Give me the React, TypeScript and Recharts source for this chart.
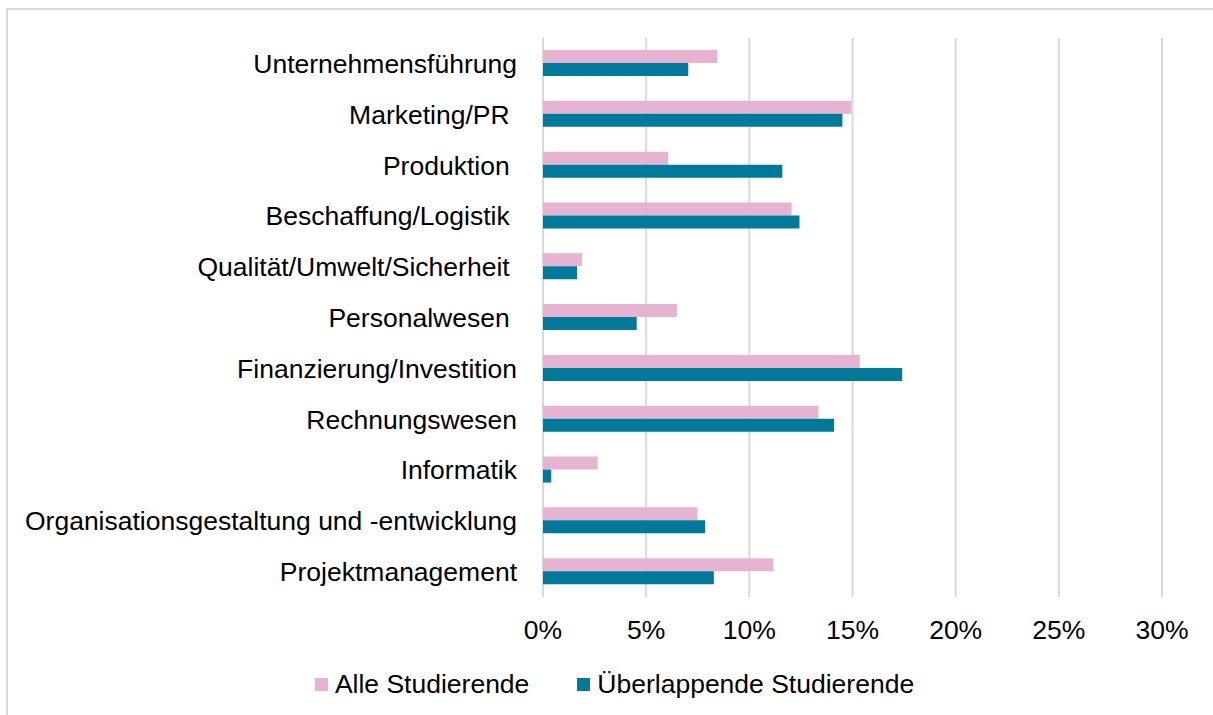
import { Bar, BarChart, CartesianGrid, Legend, XAxis, YAxis } from "recharts";

const categories = [
  "Unternehmensführung",
  "Marketing/PR\u00a0",
  "Produktion\u00a0",
  "Beschaffung/Logistik\u00a0",
  "Qualität/Umwelt/Sicherheit\u00a0",
  "Personalwesen\u00a0",
  "Finanzierung/Investition",
  "Rechnungswesen",
  "Informatik",
  "Organisationsgestaltung und -entwicklung",
  "Projektmanagement",
];

// Anteile in %
const alleStudierende = [8.45, 14.95, 6.07, 12.05, 1.89, 6.49, 15.35, 13.35, 2.65, 7.49, 11.17];
const ueberlappendeStudierende = [7.04, 14.51, 11.6, 12.43, 1.65, 4.54, 17.41, 14.11, 0.4, 7.86, 8.28];

const xTicks = [0, 5, 10, 15, 20, 25, 30];

const FONT = "'Liberation Sans', Arial, sans-serif";
const FONT_SIZE = 26.5;
const PINK = "#e6b4d2";
const TEAL = "#00799a";
const GRID = "#d9d9d9";

const data = categories.map((name, i) => ({
  name,
  alle: alleStudierende[i],
  ueberlappend: ueberlappendeStudierende[i],
}));

function CategoryTick({ x, y, payload }: any) {
  return (
    <text
      x={x - 24}
      y={y}
      dy="0.36em"
      textAnchor="end"
      fill="#000"
      fontSize={FONT_SIZE}
      fontFamily={FONT}
      style={{ whiteSpace: "pre" }}
    >
      {payload.value}
    </text>
  );
}

function PercentTick({ x, payload }: any) {
  return (
    <text x={x} y={639} textAnchor="middle" fill="#000" fontSize={FONT_SIZE} fontFamily={FONT}>
      {`${payload.value}%`}
    </text>
  );
}

function LegendContent({ payload }: any) {
  return (
    <div
      style={{
        display: "flex",
        justifyContent: "center",
        gap: 48,
        fontFamily: FONT,
        fontSize: FONT_SIZE,
        lineHeight: "30px",
        color: "#000",
      }}
    >
      {(payload || []).map((entry: any) => (
        <div key={entry.value} style={{ display: "flex", alignItems: "center" }}>
          <span
            style={{
              display: "inline-block",
              width: 13,
              height: 13,
              marginRight: 7,
              background: entry.color,
            }}
          />
          {entry.value}
        </div>
      ))}
    </div>
  );
}

export default function App() {
  return (
    <div style={{ position: "absolute", left: 0, top: 0, width: 1213, height: 715, background: "#fff" }}>
      <div
        style={{
          position: "absolute",
          left: 6,
          top: 8,
          width: 1207,
          height: 707,
          boxSizing: "border-box",
          borderTop: `2px solid ${GRID}`,
          borderLeft: `2px solid ${GRID}`,
        }}
      />
      <div style={{ position: "absolute", left: 0, top: 0 }}>
        <BarChart
          width={1213}
          height={715}
          data={data}
          layout="vertical"
          margin={{ top: 38, right: 51, bottom: 78, left: 0 }}
          barSize={13}
          barGap={0}
        >
          <CartesianGrid horizontal={false} stroke={GRID} strokeWidth={2} />
          <XAxis
            type="number"
            domain={[0, 30]}
            ticks={xTicks}
            axisLine={false}
            tickLine={false}
            height={40}
            tick={<PercentTick />}
            interval={0}
          />
          <YAxis
            type="category"
            dataKey="name"
            width={543}
            axisLine={false}
            tickLine={false}
            tickSize={0}
            tick={<CategoryTick />}
            interval={0}
          />
          <Legend
            verticalAlign="middle"
            align="center"
            layout="horizontal"
            wrapperStyle={{ top: 669, left: 16, width: 1197 }}
            content={<LegendContent />}
          />
          <Bar dataKey="alle" name="Alle Studierende" fill={PINK} isAnimationActive={false} />
          <Bar
            dataKey="ueberlappend"
            name="Überlappende Studierende"
            fill={TEAL}
            isAnimationActive={false}
          />
        </BarChart>
      </div>
    </div>
  );
}
